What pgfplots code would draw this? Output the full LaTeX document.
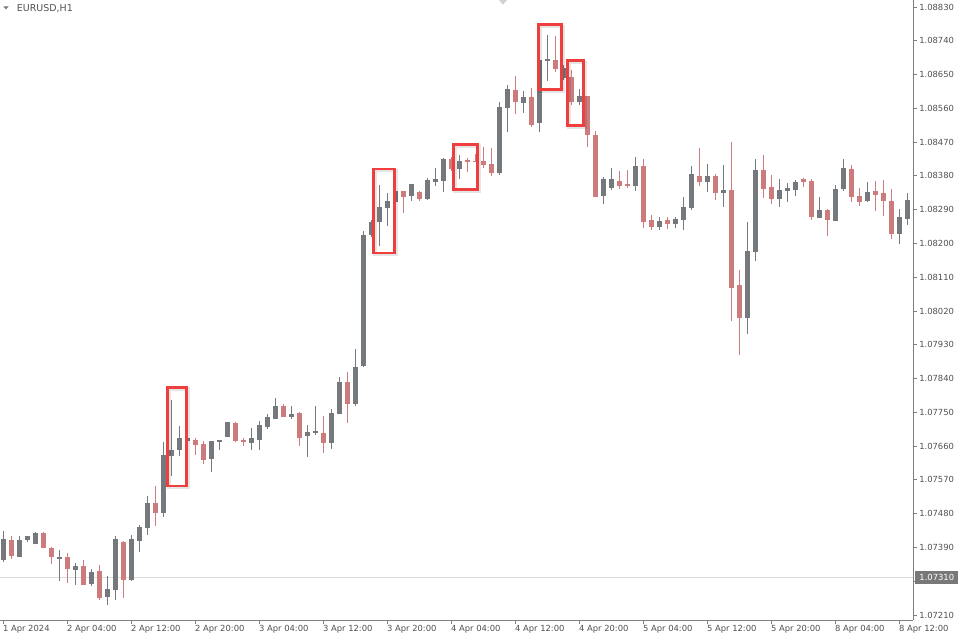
\documentclass[border=0pt]{standalone}
\usepackage{pgfplots}
\pgfplotsset{compat=1.18}
\usepackage{pgfplotstable}
\usepackage{fontspec}
\setmainfont{DejaVu Sans}
\definecolor{cgray}{RGB}{118,121,124}
\definecolor{cred}{RGB}{204,124,124}
\definecolor{boxred}{RGB}{238,62,62}
\definecolor{axgray}{RGB}{128,128,128}
\definecolor{lblgray}{RGB}{80,80,80}
\definecolor{pline}{RGB}{220,220,220}
\definecolor{tagbg}{RGB}{120,120,120}

\pgfplotstableread{
k O H L C
0 1.07357 1.07434 1.07351 1.07413
1 1.07410 1.07421 1.07359 1.07367
2 1.07365 1.07421 1.07364 1.07410
3 1.07410 1.07421 1.07405 1.07420
4 1.07399 1.07431 1.07398 1.07429
5 1.07429 1.07431 1.07388 1.07389
6 1.07389 1.07391 1.07346 1.07365
7 1.07360 1.07383 1.07301 1.07365
8 1.07365 1.07375 1.07295 1.07333
9 1.07330 1.07349 1.07290 1.07341
10 1.07341 1.07357 1.07289 1.07290
11 1.07293 1.07333 1.07287 1.07325
12 1.07327 1.07343 1.07250 1.07255
13 1.07258 1.07314 1.07237 1.07279
14 1.07277 1.07421 1.07250 1.07413
15 1.07405 1.07406 1.07255 1.07303
16 1.07303 1.07423 1.07301 1.07413
17 1.07407 1.07450 1.07378 1.07445
18 1.07442 1.07527 1.07423 1.07508
19 1.07508 1.07554 1.07447 1.07482
20 1.07482 1.07671 1.07471 1.07636
21 1.07634 1.07783 1.07580 1.07650
22 1.07650 1.07714 1.07634 1.07682
23 1.07674 1.07684 1.07671 1.07682
24 1.07676 1.07682 1.07636 1.07663
25 1.07666 1.07674 1.07612 1.07623
26 1.07626 1.07675 1.07591 1.07674
27 1.07671 1.07677 1.07650 1.07676
28 1.07684 1.07725 1.07683 1.07724
29 1.07722 1.07723 1.07671 1.07674
30 1.07676 1.07682 1.07660 1.07671
31 1.07668 1.07708 1.07650 1.07682
32 1.07676 1.07727 1.07650 1.07716
33 1.07711 1.07746 1.07706 1.07738
34 1.07732 1.07788 1.07731 1.07767
35 1.07767 1.07772 1.07737 1.07738
36 1.07738 1.07767 1.07732 1.07746
37 1.07748 1.07751 1.07660 1.07682
38 1.07687 1.07716 1.07631 1.07698
39 1.07695 1.07767 1.07690 1.07700
40 1.07695 1.07740 1.07642 1.07668
41 1.07668 1.07759 1.07652 1.07748
42 1.07746 1.07844 1.07745 1.07831
43 1.07831 1.07858 1.07722 1.07772
44 1.07772 1.07919 1.07767 1.07871
45 1.07873 1.08233 1.07872 1.08223
46 1.08222 1.08262 1.08218 1.08257
47 1.08257 1.08356 1.08193 1.08297
48 1.08295 1.08334 1.08247 1.08313
49 1.08311 1.08341 1.08309 1.08340
50 1.08340 1.08341 1.08281 1.08324
51 1.08326 1.08359 1.08313 1.08358
52 1.08337 1.08340 1.08313 1.08318
53 1.08318 1.08374 1.08317 1.08369
54 1.08364 1.08401 1.08353 1.08372
55 1.08366 1.08428 1.08337 1.08425
56 1.08425 1.08430 1.08393 1.08398
57 1.08398 1.08436 1.08372 1.08420
58 1.08422 1.08428 1.08390 1.08417
59 1.08420 1.08438 1.08416 1.08417
60 1.08420 1.08457 1.08401 1.08409
61 1.08412 1.08454 1.08380 1.08388
62 1.08388 1.08577 1.08382 1.08564
63 1.08561 1.08622 1.08497 1.08612
64 1.08609 1.08646 1.08545 1.08577
65 1.08574 1.08606 1.08548 1.08590
66 1.08590 1.08614 1.08510 1.08516
67 1.08521 1.08694 1.08497 1.08689
68 1.08686 1.08755 1.08633 1.08692
69 1.08689 1.08753 1.08657 1.08665
70 1.08641 1.08676 1.08636 1.08668
71 1.08644 1.08662 1.08569 1.08577
72 1.08577 1.08612 1.08569 1.08593
73 1.08593 1.08594 1.08457 1.08489
74 1.08490 1.08500 1.08323 1.08324
75 1.08326 1.08377 1.08305 1.08372
76 1.08348 1.08401 1.08342 1.08372
77 1.08366 1.08393 1.08345 1.08353
78 1.08358 1.08396 1.08348 1.08353
79 1.08353 1.08430 1.08340 1.08406
80 1.08406 1.08425 1.08241 1.08257
81 1.08263 1.08276 1.08236 1.08244
82 1.08244 1.08271 1.08236 1.08260
83 1.08263 1.08271 1.08239 1.08252
84 1.08252 1.08271 1.08241 1.08265
85 1.08263 1.08324 1.08236 1.08297
86 1.08294 1.08406 1.08289 1.08385
87 1.08380 1.08454 1.08353 1.08364
88 1.08364 1.08412 1.08337 1.08380
89 1.08380 1.08385 1.08316 1.08334
90 1.08334 1.08409 1.08297 1.08342
91 1.08342 1.08470 1.07993 1.08081
92 1.08089 1.08129 1.07903 1.08001
93 1.08001 1.08257 1.07959 1.08180
94 1.08177 1.08425 1.08153 1.08396
95 1.08396 1.08436 1.08321 1.08345
96 1.08350 1.08382 1.08305 1.08318
97 1.08318 1.08372 1.08297 1.08342
98 1.08340 1.08361 1.08310 1.08348
99 1.08342 1.08369 1.08326 1.08364
100 1.08372 1.08374 1.08350 1.08364
101 1.08366 1.08372 1.08263 1.08271
102 1.08268 1.08324 1.08267 1.08289
103 1.08289 1.08292 1.08220 1.08263
104 1.08260 1.08356 1.08259 1.08345
105 1.08345 1.08425 1.08340 1.08401
106 1.08398 1.08409 1.08310 1.08324
107 1.08326 1.08348 1.08300 1.08310
108 1.08313 1.08364 1.08310 1.08337
109 1.08340 1.08366 1.08286 1.08329
110 1.08334 1.08369 1.08273 1.08313
111 1.08313 1.08345 1.08212 1.08225
112 1.08225 1.08292 1.08199 1.08271
113 1.08265 1.08334 1.08249 1.08316
}\candles

\begin{document}
\begin{tikzpicture}
\path[use as bounding box] (0,-15pt) rectangle (720pt,465pt);
\begin{axis}[
  scale only axis, width=684.75pt, height=465pt,
  xmin=-0.4125, xmax=113.71, ymin=1.071967, ymax=1.088487,
  axis x line*=bottom, axis y line*=right,
  axis line style={draw=axgray, line width=0.75pt, -},
  every outer x axis line/.append style={-},
  every outer y axis line/.append style={-},
  tick align=outside, major tick length=3pt,
  tick style={draw=axgray, line width=0.75pt},
  scaled y ticks=false,
  xtick={0,8,...,112},
  xticklabels={1 Apr 2024,2 Apr 04:00,2 Apr 12:00,2 Apr 20:00,3 Apr 04:00,3 Apr 12:00,3 Apr 20:00,4 Apr 04:00,4 Apr 12:00,4 Apr 20:00,5 Apr 04:00,5 Apr 12:00,5 Apr 20:00,8 Apr 04:00,8 Apr 12:00},
  ytick={1.07210,1.07300,1.07390,1.07480,1.07570,1.07660,1.07750,1.07840,1.07930,1.08020,1.08110,1.08200,1.08290,1.08380,1.08470,1.08560,1.08650,1.08740,1.08830},
  yticklabels={1.07210,,1.07390,1.07480,1.07570,1.07660,1.07750,1.07840,1.07930,1.08020,1.08110,1.08200,1.08290,1.08380,1.08470,1.08560,1.08650,1.08740,1.08830},
  ticklabel style={font=\fontsize{6.3}{7}\selectfont, text=lblgray},
  xticklabel style={anchor=north west, inner sep=0pt, xshift=-0.4pt, yshift=-0.5pt},
  yticklabel style={anchor=west, inner sep=0pt, xshift=1.5pt},
  clip=false,
]
% current price line
\addplot[pline, line width=0.75pt, forget plot] coordinates {(-0.4125,1.07310) (113.71,1.07310)};

% wicks
\addplot[draw=none, mark=none, forget plot,
  error bars/.cd, y dir=both, y explicit, error mark=none,
  error bar style={draw=cgray, line width=0.75pt}]
  table[x=k, y expr={\thisrow{C}>=\thisrow{O} ? 0.5*(\thisrow{H}+\thisrow{L}) : nan},
        y error expr={0.5*(\thisrow{H}-\thisrow{L})}] {\candles};
\addplot[draw=none, mark=none, forget plot,
  error bars/.cd, y dir=both, y explicit, error mark=none,
  error bar style={draw=cred, line width=0.75pt}]
  table[x=k, y expr={\thisrow{C}<\thisrow{O} ? 0.5*(\thisrow{H}+\thisrow{L}) : nan},
        y error expr={0.5*(\thisrow{H}-\thisrow{L})}] {\candles};
% bodies
\addplot[draw=none, mark=none, forget plot,
  error bars/.cd, y dir=both, y explicit, error mark=none,
  error bar style={draw=cgray, line width=3.6pt}]
  table[x=k, y expr={\thisrow{C}>=\thisrow{O} ? 0.5*(\thisrow{O}+\thisrow{C}) : nan},
        y error expr={max(0.5*abs(\thisrow{C}-\thisrow{O}),0.000014)}] {\candles};
\addplot[draw=none, mark=none, forget plot,
  error bars/.cd, y dir=both, y explicit, error mark=none,
  error bar style={draw=cred, line width=3.6pt}]
  table[x=k, y expr={\thisrow{C}<\thisrow{O} ? 0.5*(\thisrow{O}+\thisrow{C}) : nan},
        y error expr={max(0.5*abs(\thisrow{C}-\thisrow{O}),0.000014)}] {\candles};

% highlight boxes
\begin{scope}[xshift=1.2pt, yshift=-1.2pt]
\draw[black, opacity=0.10, line width=2.6pt] (axis cs:20.49,1.07817) rectangle (axis cs:22.86,1.07554);
\draw[black, opacity=0.10, line width=2.6pt] (axis cs:46.24,1.08398) rectangle (axis cs:48.90,1.08175);
\draw[black, opacity=0.10, line width=2.6pt] (axis cs:56.24,1.08464) rectangle (axis cs:59.28,1.08344);
\draw[black, opacity=0.10, line width=2.6pt] (axis cs:66.86,1.08783) rectangle (axis cs:69.74,1.08610);
\draw[black, opacity=0.10, line width=2.6pt] (axis cs:70.49,1.08687) rectangle (axis cs:72.56,1.08515);
\end{scope}
\draw[boxred, line width=2pt] (axis cs:20.49,1.07817) rectangle (axis cs:22.86,1.07554);
\draw[boxred, line width=2pt] (axis cs:46.24,1.08398) rectangle (axis cs:48.90,1.08175);
\draw[boxred, line width=2pt] (axis cs:56.24,1.08464) rectangle (axis cs:59.28,1.08344);
\draw[boxred, line width=2pt] (axis cs:66.86,1.08783) rectangle (axis cs:69.74,1.08610);
\draw[boxred, line width=2pt] (axis cs:70.49,1.08687) rectangle (axis cs:72.56,1.08515);

% current price tag
\node[fill=tagbg, text=white, inner sep=0pt, minimum width=32.25pt, minimum height=9.75pt,
      anchor=west, font=\fontsize{6.3}{7}\selectfont] at ([xshift=1.5pt]axis cs:113.71,1.07310) {1.07310};

% title
\fill[lblgray!80] ([xshift=2.5pt,yshift=-4.75pt]rel axis cs:0,1) -- ([xshift=6.5pt,yshift=-4.75pt]rel axis cs:0,1) -- ([xshift=4.5pt,yshift=-7pt]rel axis cs:0,1) -- cycle;
\node[anchor=west, inner sep=0pt, font=\fontsize{7.1}{8}\selectfont, text=lblgray] at ([xshift=12.5pt,yshift=-6.5pt]rel axis cs:0,1) {EURUSD,H1};
% chart shift marker
\fill[black!18] ([xshift=-3pt]rel axis cs:0.5509,1) -- ([xshift=3pt]rel axis cs:0.5509,1) -- ([yshift=-3.5pt]rel axis cs:0.5509,1) -- cycle;
\end{axis}
\end{tikzpicture}
\end{document}
